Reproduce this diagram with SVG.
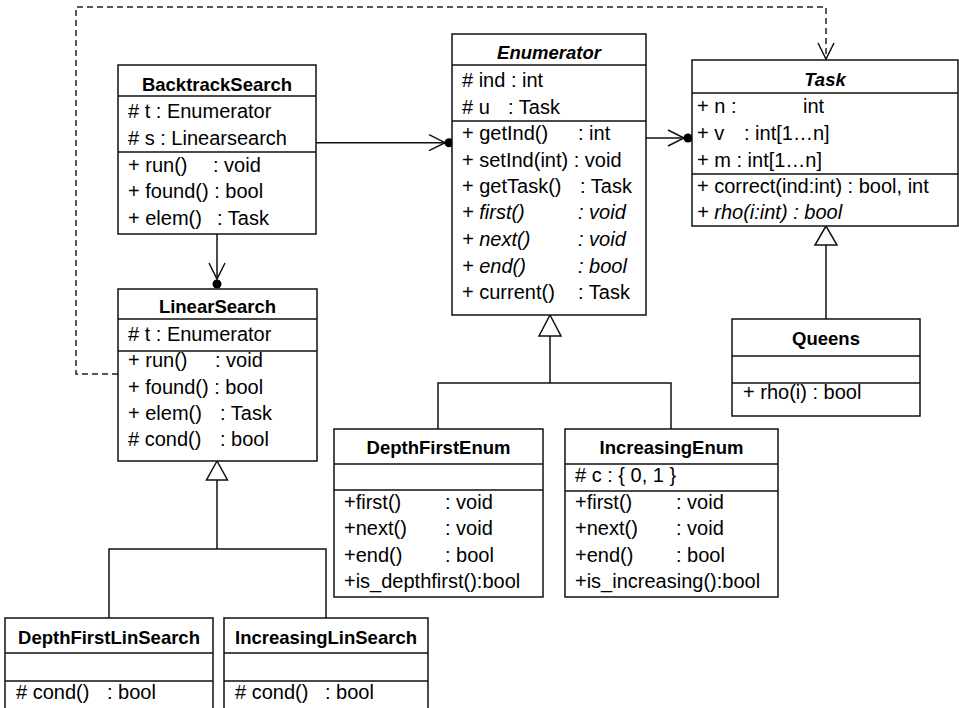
<svg xmlns="http://www.w3.org/2000/svg" width="959" height="708" viewBox="0 0 959 708">
<defs>
<style>
.box{fill:#fff;stroke:#111;stroke-width:1.5}
.div{stroke:#111;stroke-width:1.5}
.t{font-family:"Liberation Sans",Arial,sans-serif;font-size:20px;fill:#000}
.h{font-family:"Liberation Sans",Arial,sans-serif;font-size:18.5px;font-weight:bold;fill:#000;text-anchor:middle}
.i{font-style:italic}
.ln{fill:none;stroke:#111;stroke-width:1.5}
.dash{fill:none;stroke:#222;stroke-width:1.5;stroke-dasharray:6 4}
.tri{fill:#fff;stroke:#111;stroke-width:1.5}
.dot{fill:#000}
</style>
<marker id="open" markerUnits="userSpaceOnUse" markerWidth="20" markerHeight="20" refX="0" refY="0" orient="auto" overflow="visible">
<path d="M-16,-8 L0,0 L-16,8" fill="none" stroke="#111" stroke-width="1.5"/>
</marker>
</defs>
<rect width="959" height="708" fill="#fff"/>

<g id="connectors">
<path class="dash" d="M118,374 H76 V7 H826 V59" marker-end="url(#open)"/>
<path class="ln" d="M316,142.7 H445" marker-end="url(#open)"/>
<circle class="dot" cx="449" cy="142.7" r="4.5"/>
<path class="ln" d="M646,138 H684" marker-end="url(#open)"/>
<circle class="dot" cx="688" cy="138" r="4.5"/>
<path class="ln" d="M217,234 V279" marker-end="url(#open)"/>
<circle class="dot" cx="217" cy="284" r="4.5"/>
<polygon class="tri" points="217,461 206.5,480 227.5,480"/>
<path class="ln" d="M217,480 V549 M109,618 V549 H326 V618"/>
<polygon class="tri" points="550,315 539,336 561,336"/>
<path class="ln" d="M550,336 V383 M438,429 V383 H671 V429"/>
<polygon class="tri" points="826,226 815,245 837,245"/>
<path class="ln" d="M826,245 V319"/>
</g>

<g id="BacktrackSearch">
<rect class="box" x="118" y="65" width="198" height="169"/>
<path class="div" d="M118,96 H316 M118,152 H316"/>
<text class="h" x="217" y="91">BacktrackSearch</text>
<text class="t" x="128" y="118"># t : Enumerator</text>
<text class="t" x="128" y="145"># s : Linearsearch</text>
<text class="t" x="128" y="172">+ run()<tspan x="213">: void</tspan></text>
<text class="t" x="128" y="198">+ found() : bool</text>
<text class="t" x="128" y="225">+ elem()<tspan x="217">: Task</tspan></text>
</g>

<g id="Enumerator">
<rect class="box" x="452" y="34" width="194" height="281"/>
<path class="div" d="M452,65 H646 M452,121 H646"/>
<text class="h i" x="549" y="59">Enumerator</text>
<text class="t" x="462" y="87"># ind : int</text>
<text class="t" x="462" y="114"># u<tspan x="508">: Task</tspan></text>
<text class="t" x="462" y="140">+ getInd()<tspan x="578">: int</tspan></text>
<text class="t" x="462" y="167">+ setInd(int) : void</text>
<text class="t" x="462" y="193">+ getTask()<tspan x="580">: Task</tspan></text>
<text class="t i" x="462" y="219">+ first()<tspan x="578">: void</tspan></text>
<text class="t i" x="462" y="246">+ next()<tspan x="578">: void</tspan></text>
<text class="t i" x="462" y="273">+ end()<tspan x="578">: bool</tspan></text>
<text class="t" x="462" y="299">+ current()<tspan x="578">: Task</tspan></text>
</g>

<g id="Task">
<rect class="box" x="692" y="60" width="266" height="166"/>
<path class="div" d="M692,93 H958 M692,174 H958"/>
<text class="h i" x="825" y="86">Task</text>
<text class="t" x="697" y="113">+ n :<tspan x="803">int</tspan></text>
<text class="t" x="697" y="140">+ v<tspan x="744">: int[1…n]</tspan></text>
<text class="t" x="697" y="167">+ m : int[1…n]</text>
<text class="t" x="697" y="193">+ correct(ind:int) : bool, int</text>
<text class="t i" x="697" y="219">+ rho(i:int) : bool</text>
</g>

<g id="LinearSearch">
<rect class="box" x="118" y="289" width="199" height="172"/>
<path class="div" d="M118,319 H317 M118,351 H317"/>
<text class="h" x="217.5" y="313">LinearSearch</text>
<text class="t" x="128" y="341"># t : Enumerator</text>
<text class="t" x="128" y="367">+ run()<tspan x="215">: void</tspan></text>
<text class="t" x="128" y="394">+ found() : bool</text>
<text class="t" x="128" y="420">+ elem()<tspan x="220">: Task</tspan></text>
<text class="t" x="128" y="446"># cond()<tspan x="220">: bool</tspan></text>
</g>

<g id="Queens">
<rect class="box" x="732" y="319" width="188" height="97"/>
<path class="div" d="M732,356 H920 M732,383 H920"/>
<text class="h" x="826" y="345">Queens</text>
<text class="t" x="743" y="399">+ rho(i) : bool</text>
</g>

<g id="DepthFirstEnum">
<rect class="box" x="334" y="429" width="209" height="168"/>
<path class="div" d="M334,464 H543 M334,490 H543"/>
<text class="h" x="438.5" y="454">DepthFirstEnum</text>
<text class="t" x="344" y="509">+first()<tspan x="445">: void</tspan></text>
<text class="t" x="344" y="535">+next()<tspan x="445">: void</tspan></text>
<text class="t" x="344" y="562">+end()<tspan x="445">: bool</tspan></text>
<text class="t" x="344" y="588">+is_depthfirst():bool</text>
</g>

<g id="IncreasingEnum">
<rect class="box" x="565" y="429" width="213" height="168"/>
<path class="div" d="M565,464 H778 M565,491 H778"/>
<text class="h" x="671.5" y="454">IncreasingEnum</text>
<text class="t" x="575" y="482"># c : { 0, 1 }</text>
<text class="t" x="575" y="509">+first()<tspan x="676">: void</tspan></text>
<text class="t" x="575" y="535">+next()<tspan x="676">: void</tspan></text>
<text class="t" x="575" y="562">+end()<tspan x="676">: bool</tspan></text>
<text class="t" x="575" y="588">+is_increasing():bool</text>
</g>

<g id="DepthFirstLinSearch">
<rect class="box" x="5" y="618" width="208" height="96"/>
<path class="div" d="M5,653 H213 M5,681 H213"/>
<text class="h" x="109" y="644">DepthFirstLinSearch</text>
<text class="t" x="16" y="699"># cond()<tspan x="107">: bool</tspan></text>
</g>

<g id="IncreasingLinSearch">
<rect class="box" x="224" y="618" width="204" height="96"/>
<path class="div" d="M224,653 H428 M224,681 H428"/>
<text class="h" x="326" y="644">IncreasingLinSearch</text>
<text class="t" x="235" y="699"># cond()<tspan x="325">: bool</tspan></text>
</g>
</svg>
